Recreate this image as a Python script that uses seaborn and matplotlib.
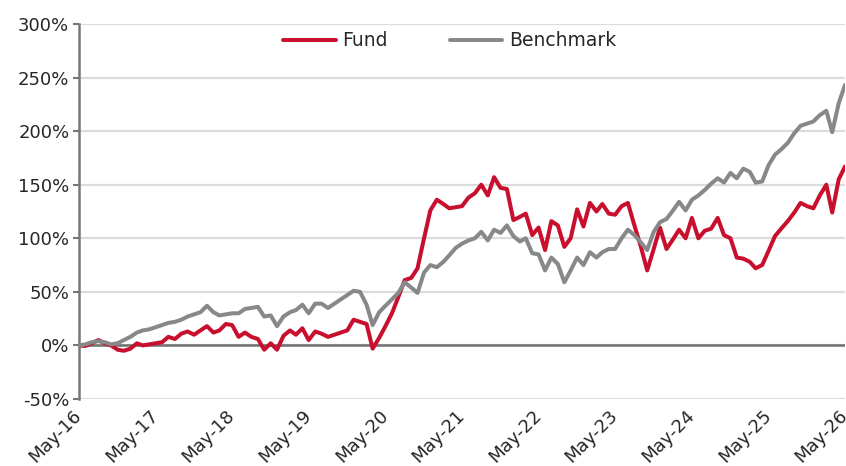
import pandas as pd
import seaborn as sns
import matplotlib.pyplot as plt
import matplotlib.dates as mdates
import matplotlib.ticker as mtick

# Cumulative returns (%), monthly from May-16 to May-26
fund = [0, -0.5, 2, 5, 2, 0, -4, -5, -3, 2,
        0, 1, 2, 3, 8, 6, 11, 13, 10, 14,
        18, 12, 14, 20, 19, 8, 12, 8, 6, -4,
        2, -4, 9, 14, 10, 16, 5, 13, 11, 8,
        10, 12, 14, 24, 22, 20, -3, 7, 18, 30,
        45, 61, 63, 72, 100, 126, 136, 132, 128, 129,
        130, 138, 142, 150, 140, 157, 147, 146, 117, 120,
        123, 103, 110, 89, 116, 112, 92, 100, 127, 111,
        133, 125, 132, 123, 122, 130, 133, 112, 92, 70,
        90, 110, 90, 99, 108, 100, 119, 100, 107, 109,
        119, 103, 100, 82, 81, 78, 72, 75, 88, 102,
        109, 116, 124, 133, 130, 128, 140, 150, 124, 155,
        167]
benchmark = [0, 1, 3, 4, 3, 1, 2, 5, 8, 12,
             14, 15, 17, 19, 21, 22, 24, 27, 29, 31,
             37, 31, 28, 29, 30, 30, 34, 35, 36, 27,
             28, 18, 27, 31, 33, 38, 30, 39, 39, 35,
             39, 43, 47, 51, 50, 38, 19, 31, 37, 43,
             49, 59, 54, 49, 68, 75, 73, 78, 84, 91,
             95, 98, 100, 106, 98, 108, 105, 112, 102, 97,
             100, 86, 85, 70, 82, 76, 59, 70, 82, 75,
             87, 82, 87, 90, 90, 100, 108, 103, 96, 89,
             106, 115, 118, 126, 134, 126, 136, 140, 145, 151,
             156, 152, 161, 156, 165, 162, 152, 153, 168, 178,
             183, 189, 198, 205, 207, 209, 215, 219, 199, 226,
             243]
dates = pd.date_range("2016-05-01", periods=len(fund), freq="MS")
series_names = ["Fund", "Benchmark"]
colors = {"Fund": "#C8102E", "Benchmark": "#87888A"}

df = pd.concat([
    pd.DataFrame({"Date": dates, "Return": fund, "Series": "Fund"}),
    pd.DataFrame({"Date": dates, "Return": benchmark, "Series": "Benchmark"}),
])

sns.set_theme(style="white")
plt.rcParams['font.family'] = ['DejaVu Sans']
plt.rcParams['axes.unicode_minus'] = False
text_color = "#262626"

fig = plt.figure(figsize=(8.46, 4.66), dpi=100)
ax = fig.add_axes([79 / 846, 1 - 399 / 466, (845 - 79) / 846, (399 - 24) / 466])

sns.lineplot(data=df, x="Date", y="Return", hue="Series", hue_order=series_names,
             palette=colors, linewidth=2.9, ax=ax, zorder=3)

ax.axhline(0, color="#707070", linewidth=1.8, zorder=2)

ax.set_ylim(-50, 300)
ax.set_yticks(range(-50, 301, 50))
ax.yaxis.set_major_formatter(mtick.PercentFormatter(100, decimals=0))
ax.yaxis.grid(True, color="#dcdcdc", linewidth=1.6)
ax.set_axisbelow(True)

ax.set_xlim(dates[0], dates[-1])
ax.xaxis.set_major_locator(mdates.MonthLocator(bymonth=5))
ax.xaxis.set_major_formatter(mdates.DateFormatter("%b-%y"))

for side in ["top", "right", "bottom"]:
    ax.spines[side].set_visible(False)
ax.spines["left"].set_color("#777777")
ax.spines["left"].set_linewidth(1.8)

ax.tick_params(axis="y", left=True, length=4, width=1.5, color="#777777",
               labelsize=13, labelcolor=text_color, pad=3)
ax.tick_params(axis="x", bottom=False, length=0, labelsize=13,
               labelcolor=text_color, pad=10)
for lbl in ax.get_xticklabels():
    lbl.set_rotation(45)
    lbl.set_ha("right")
    lbl.set_va("center")
    lbl.set_rotation_mode("anchor")

ax.set_xlabel("")
ax.set_ylabel("")

handles, labels = ax.get_legend_handles_labels()
ax.legend(handles, labels, loc="center", bbox_to_anchor=(0.484, 0.955), ncol=2,
          frameon=False, fontsize=13.5, handlelength=2.8, handletextpad=0.35,
          columnspacing=3.3, labelcolor=text_color)

fig.savefig("out.png", dpi=100)
